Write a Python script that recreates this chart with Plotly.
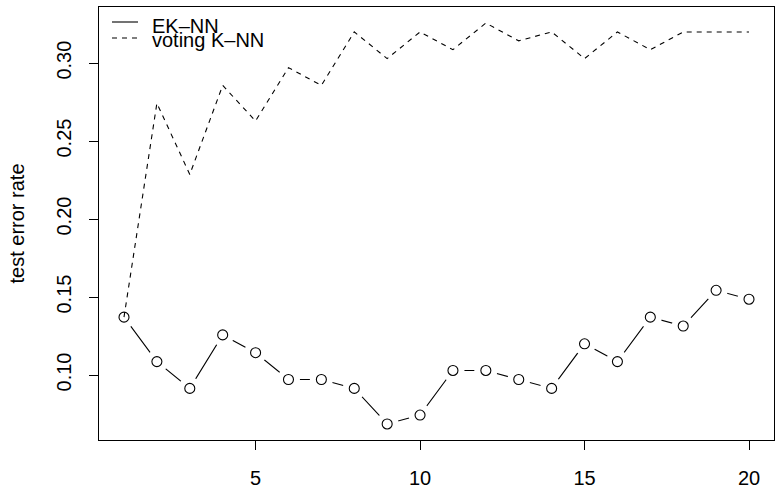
import plotly.graph_objects as go

k_values = list(range(1, 21))
eknn_error = [0.1371, 0.1086, 0.0914, 0.1257, 0.1143, 0.0971, 0.0971, 0.0914, 0.0686, 0.0743,
              0.1029, 0.1029, 0.0971, 0.0914, 0.1200, 0.1086, 0.1371, 0.1314, 0.1543, 0.1486]
voting_error = [0.1371, 0.2743, 0.2286, 0.2857, 0.2629, 0.2971, 0.2857, 0.3200, 0.3029, 0.3200,
                0.3086, 0.3257, 0.3143, 0.3200, 0.3029, 0.3200, 0.3086, 0.3200, 0.3200, 0.3200]
x_ticks = [5, 10, 15, 20]
y_ticks = [0.10, 0.15, 0.20, 0.25, 0.30]
legend_labels = ["EK\u2013NN", "voting K\u2013NN"]
y_title = "test error rate"

FONT = "Liberation Sans, Arial, Helvetica, sans-serif"
FS = 20
W, H = 776, 486
L, R, T, B = 99, 2, 7, 46
PW, PH = W - L - R, H - T - B

# R-style 4% axis extension
def ext(lo, hi):
    d = (hi - lo) * 0.04
    return [lo - d, hi + d]

xr = ext(min(k_values), max(k_values))
allv = eknn_error + voting_error
yr = ext(min(allv), max(allv))

fig = go.Figure()
# EK-NN connecting line
fig.add_trace(go.Scatter(x=k_values, y=eknn_error, mode="lines",
                         line=dict(color="black", width=1.1), showlegend=False, hoverinfo="skip"))
# white gap around points (type="b" look)
fig.add_trace(go.Scatter(x=k_values, y=eknn_error, mode="markers",
                         marker=dict(symbol="circle", size=23, color="white", line=dict(width=0)),
                         showlegend=False, hoverinfo="skip"))
# voting K-NN dashed
fig.add_trace(go.Scatter(x=k_values, y=voting_error, mode="lines", name=legend_labels[1],
                         line=dict(color="black", width=1.1, dash="5px,5px"), showlegend=False))
# open circles
fig.add_trace(go.Scatter(x=k_values, y=eknn_error, mode="markers", name=legend_labels[0],
                         marker=dict(symbol="circle-open", size=10, color="black", line=dict(width=1.1, color="black")),
                         showlegend=False))

def px_x(p):
    return (p - L) / PW

def px_y(p):
    return 1 - (p - T) / PH

shapes = [
    dict(type="line", xref="paper", yref="paper", x0=px_x(112), x1=px_x(138), y0=px_y(22), y1=px_y(22),
         line=dict(color="black", width=1.1)),
    dict(type="line", xref="paper", yref="paper", x0=px_x(112), x1=px_x(138), y0=px_y(38), y1=px_y(38),
         line=dict(color="black", width=1.1, dash="5px,5px")),
]
annotations = [
    dict(text=legend_labels[0], xref="paper", yref="paper", x=px_x(150), y=px_y(26),
         xanchor="left", yanchor="middle", showarrow=False, font=dict(family=FONT, size=FS, color="black")),
    dict(text=legend_labels[1], xref="paper", yref="paper", x=px_x(150), y=px_y(40.5),
         xanchor="left", yanchor="middle", showarrow=False, font=dict(family=FONT, size=FS, color="black")),
    dict(text=y_title, xref="paper", yref="paper", x=px_x(16), y=0.5, textangle=-90,
         xanchor="center", yanchor="middle", showarrow=False, font=dict(family=FONT, size=FS, color="black")),
]

fig.update_layout(
    width=W, height=H,
    margin=dict(l=L, r=R, t=T, b=B, pad=0, autoexpand=False),
    paper_bgcolor="white", plot_bgcolor="white",
    font=dict(family=FONT, size=FS, color="black"),
    shapes=shapes, annotations=annotations,
    showlegend=False,
)
fig.update_xaxes(range=xr, tickvals=x_ticks, ticktext=[str(v) for v in x_ticks], automargin=False,
                 showgrid=False, zeroline=False, showline=True, linecolor="black", linewidth=1,
                 mirror=True, ticks="outside", ticklen=9, tickwidth=1, tickcolor="black",
                 ticklabelstandoff=11, tickfont=dict(family=FONT, size=FS, color="black"))
fig.update_yaxes(range=yr, tickvals=y_ticks, ticktext=["%.2f" % v for v in y_ticks], automargin=False,
                 showgrid=False, zeroline=False, showline=True, linecolor="black", linewidth=1,
                 mirror=True, ticks="outside", ticklen=9, tickwidth=1, tickcolor="black",
                 tickangle=-90, ticklabelstandoff=10, tickfont=dict(family=FONT, size=FS, color="black"))

fig.write_html("out.html", config={"displayModeBar": False},
               post_script="document.body.style.margin='0';document.body.style.padding='0';")
